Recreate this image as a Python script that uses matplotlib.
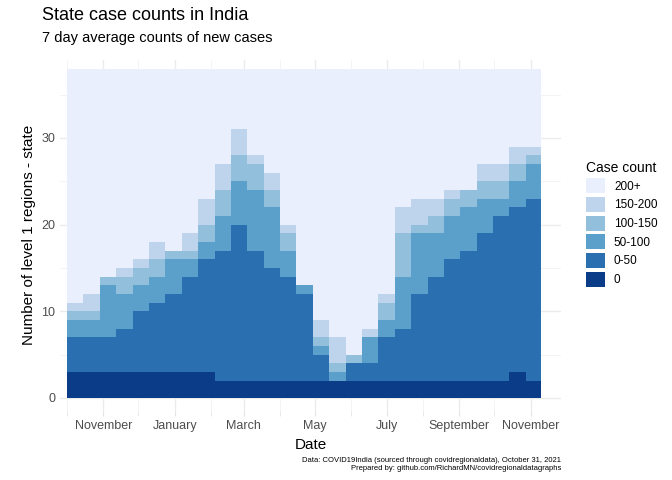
import matplotlib.pyplot as plt
import matplotlib.dates as mdates
import numpy as np
import pandas as pd

plt.rcParams["font.family"] = ["Liberation Sans", "DejaVu Sans"]

# biweekly readings, cumulative number of states at top of each band
dates = pd.date_range("2020-10-01", periods=29, freq="14D").append(pd.DatetimeIndex(["2021-11-10"]))
top_zero = [3, 3, 3, 3, 3, 3, 3, 3, 3, 2, 2, 2, 2, 2, 2, 2, 2, 2, 2, 2, 2, 2, 2, 2, 2, 2, 2, 3, 2, 4]
top_0_50 = [7, 7, 7, 8, 10, 11, 12, 14, 16, 17, 20, 17, 15, 14, 12, 5, 2, 4, 4, 7, 8, 12, 14, 16, 17, 19, 21, 22, 23, 25]
top_50_100 = [9, 9, 13, 12, 13, 14, 16, 16, 18, 21, 25, 24, 22, 17, 13, 6, 3, 4, 7, 9, 14, 19, 19, 21, 22, 23, 23, 25, 27, 27]
top_100_150 = [10, 10, 14, 14, 15, 16, 17, 17, 20, 24, 28, 27, 24, 19, 13, 7, 4, 5, 7, 11, 19, 20, 21, 23, 24, 25, 25, 27, 28, 27]
top_150_200 = [11, 12, 14, 15, 16, 18, 17, 19, 23, 27, 31, 28, 26, 20, 13, 9, 7, 5, 8, 12, 22, 23, 23, 24, 24, 27, 27, 29, 29, 28]
total = 38

labels = ["0", "0-50", "50-100", "100-150", "150-200", "200+"]
colors = ["#0b3c87", "#2a6fb0", "#5b9fcb", "#92c0dc", "#bed4ec", "#e9effc"]

bands = [np.zeros(len(dates)), np.array(top_zero), np.array(top_0_50), np.array(top_50_100),
         np.array(top_100_150), np.array(top_150_200), np.full(len(dates), total)]

fig = plt.figure(figsize=(6.72, 4.8), dpi=100)
ax = fig.add_axes([60 / 672, 70 / 480, 501 / 672, 350 / 480])
for i in range(6):
    ax.fill_between(dates, bands[i], bands[i + 1], step="post", color=colors[i],
                    linewidth=0, label=labels[i], zorder=2)

ax.set_xlim(pd.Timestamp("2020-09-25"), pd.Timestamp("2021-11-27"))
ax.set_ylim(-1.4, 39)
ax.set_yticks([0, 10, 20, 30])
ax.set_yticks([5, 15, 25, 35], minor=True)
ax.xaxis.set_major_locator(mdates.MonthLocator(bymonth=[1, 3, 5, 7, 9, 11]))
ax.xaxis.set_major_formatter(mdates.DateFormatter("%B"))
ax.xaxis.set_minor_locator(mdates.MonthLocator(bymonth=[2, 4, 6, 8, 10, 12]))
ax.grid(which="major", color="#ebebeb", linewidth=1, zorder=0)
ax.grid(which="minor", color="#f3f3f3", linewidth=0.6, zorder=0)
for s in ax.spines.values():
    s.set_visible(False)
ax.tick_params(which="both", length=0, labelsize=9, colors="#4d4d4d")
ax.tick_params(axis="x", which="both", length=4, color="#e5e5e5")

ax.set_xlabel("Date", fontsize=11)
ax.set_ylabel("Number of level 1 regions - state", fontsize=11)
fig.text(42 / 672, 1 - 16 / 480, "State case counts in India", fontsize=13, va="center")
fig.text(42 / 672, 1 - 38 / 480, "7 day average counts of new cases", fontsize=10.5, va="center")
fig.text(561 / 672, 1 - 461 / 480, "Data: COVID19India (sourced through covidregionaldata), October 31, 2021",
         fontsize=5.5, ha="right", va="center")
fig.text(561 / 672, 1 - 469 / 480, "Prepared by: github.com/RichardMN/covidregionaldatagraphs",
         fontsize=5.5, ha="right", va="center")

h, l = ax.get_legend_handles_labels()
leg = fig.legend(h[::-1], l[::-1], title="Case count", loc="upper left",
                 bbox_to_anchor=(575 / 672, 1 - 150 / 480), frameon=False,
                 fontsize=8.5, title_fontsize=10, handlelength=1.6, handleheight=1.6,
                 labelspacing=0.3, alignment="left")

fig.savefig("out.png")
